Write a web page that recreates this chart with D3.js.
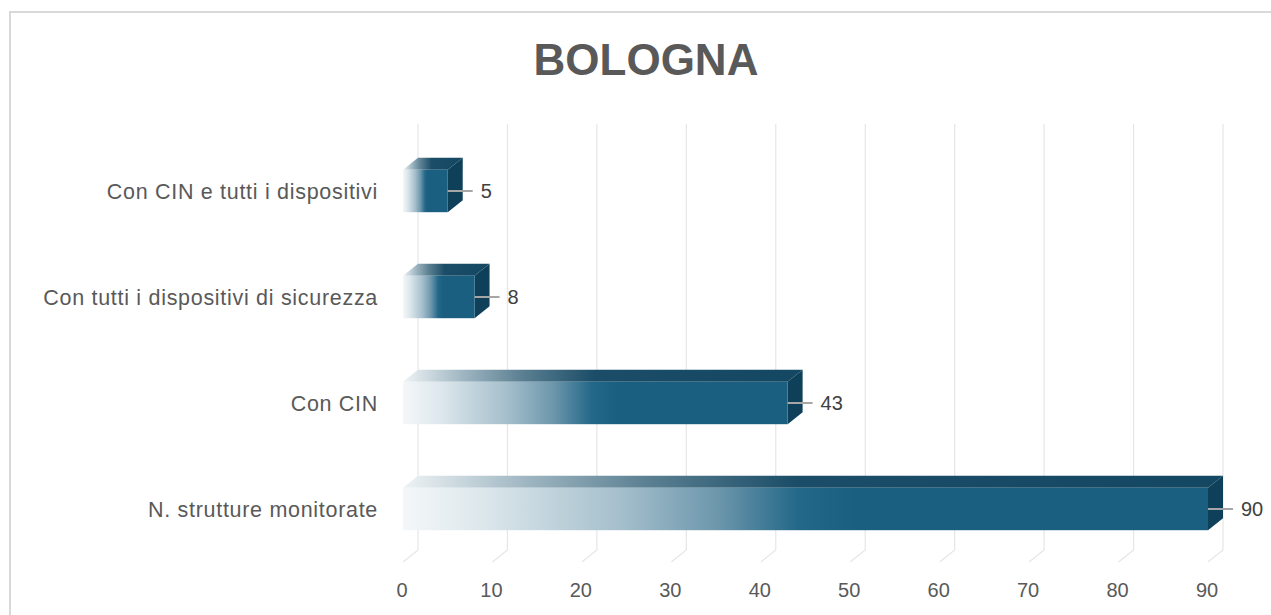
<!DOCTYPE html>
<html>
<head>
<meta charset="utf-8">
<script src="https://cdn.jsdelivr.net/npm/d3@7"></script>
<style>
  body { margin: 0; background: #fff; }
  svg { display: block; }
  text { font-family: "Liberation Sans", Arial, sans-serif; }
</style>
</head>
<body>
<svg id="chart" width="1271" height="615"></svg>
<script>
const categories = [
  "Con CIN e tutti i dispositivi",
  "Con tutti i dispositivi di sicurezza",
  "Con CIN",
  "N. strutture monitorate"
];
const values = [5, 8, 43, 90];
const ticks = [0, 10, 20, 30, 40, 50, 60, 70, 80, 90];

const svg = d3.select("#chart");
const depthX = 15, depthY = -12;

// frame
svg.append("rect")
  .attr("x", 10).attr("y", 12)
  .attr("width", 1300).attr("height", 700)
  .attr("fill", "#fff")
  .attr("stroke", "#d9d9d9")
  .attr("stroke-width", 2);

const defs = svg.append("defs");

const frontGrad = defs.append("linearGradient").attr("id", "front")
  .attr("x1", 0).attr("x2", 1).attr("y1", 0).attr("y2", 0);
[[0, "#f4f7f9"], [0.1, "#dce7ec"], [0.27, "#a5bfcc"], [0.39, "#6d97ac"], [0.49, "#246889"], [0.56, "#1a5f80"], [1, "#1a5f80"]]
  .forEach(s => frontGrad.append("stop").attr("offset", s[0]).attr("stop-color", s[1]));

const topGrad = defs.append("linearGradient").attr("id", "topface")
  .attr("x1", 0).attr("x2", 1).attr("y1", 0).attr("y2", 0);
[[0, "#eef3f5"], [0.15, "#9fb6c2"], [0.3, "#5a7f91"], [0.48, "#1b4d68"], [1, "#144761"]]
  .forEach(s => topGrad.append("stop").attr("offset", s[0]).attr("stop-color", s[1]));

const x = d3.scaleLinear().domain([0, 90]).range([403, 1208]);
const y = d3.scaleBand().domain(categories).range([138, 562])
  .paddingInner(0.6).paddingOuter(0.3);

// gridlines (back wall + floor)
const grid = svg.append("g");
grid.selectAll("path").data(ticks).enter().append("path")
  .attr("d", d => `M${x(d) + depthX},124 L${x(d) + depthX},550 L${x(d)},562`)
  .attr("fill", "none")
  .attr("stroke", "#e6e6e6")
  .attr("stroke-width", 1.2);

// axis labels
svg.append("g").selectAll("text").data(ticks).enter().append("text")
  .attr("x", d => x(d) - 1)
  .attr("y", 597)
  .attr("text-anchor", "middle")
  .attr("font-size", 20)
  .attr("fill", "#595959")
  .text(d => d);

// bars
const bars = svg.append("g").selectAll("g").data(values).enter().append("g");
const h = y.bandwidth();

bars.append("path")
  .attr("d", (d, i) => {
    const y0 = y(categories[i]), x0 = x(0), x1 = x(d);
    return `M${x0},${y0} L${x0 + depthX},${y0 + depthY} L${x1 + depthX},${y0 + depthY} L${x1},${y0} Z`;
  })
  .attr("fill", "url(#topface)");

bars.append("path")
  .attr("d", (d, i) => {
    const y0 = y(categories[i]), x1 = x(d);
    return `M${x1},${y0} L${x1 + depthX},${y0 + depthY} L${x1 + depthX},${y0 + h + depthY} L${x1},${y0 + h} Z`;
  })
  .attr("fill", "#0f405a");

bars.append("rect")
  .attr("x", x(0))
  .attr("y", (d, i) => y(categories[i]))
  .attr("width", d => x(d) - x(0))
  .attr("height", h)
  .attr("fill", "url(#front)");

// leader lines and value labels
bars.append("line")
  .attr("x1", d => x(d))
  .attr("x2", d => x(d) + 25)
  .attr("y1", (d, i) => y(categories[i]) + h / 2)
  .attr("y2", (d, i) => y(categories[i]) + h / 2)
  .attr("stroke", "#a6a6a6")
  .attr("stroke-width", 2);

bars.append("text")
  .attr("x", d => x(d) + 33)
  .attr("y", (d, i) => y(categories[i]) + h / 2)
  .attr("dy", "0.35em")
  .attr("font-size", 20)
  .attr("fill", "#404040")
  .text(d => d);

// category labels
svg.append("g").selectAll("text").data(categories).enter().append("text")
  .attr("x", 378)
  .attr("y", d => y(d) + h / 2)
  .attr("dy", "0.35em")
  .attr("text-anchor", "end")
  .attr("font-size", 21.5)
  .attr("letter-spacing", 0.7)
  .attr("fill", "#595959")
  .text(d => d);

// title
svg.append("text")
  .attr("x", 646)
  .attr("y", 75)
  .attr("text-anchor", "middle")
  .attr("font-size", 44)
  .attr("font-weight", "bold")
  .attr("fill", "#595959")
  .text("BOLOGNA");
</script>
</body>
</html>
